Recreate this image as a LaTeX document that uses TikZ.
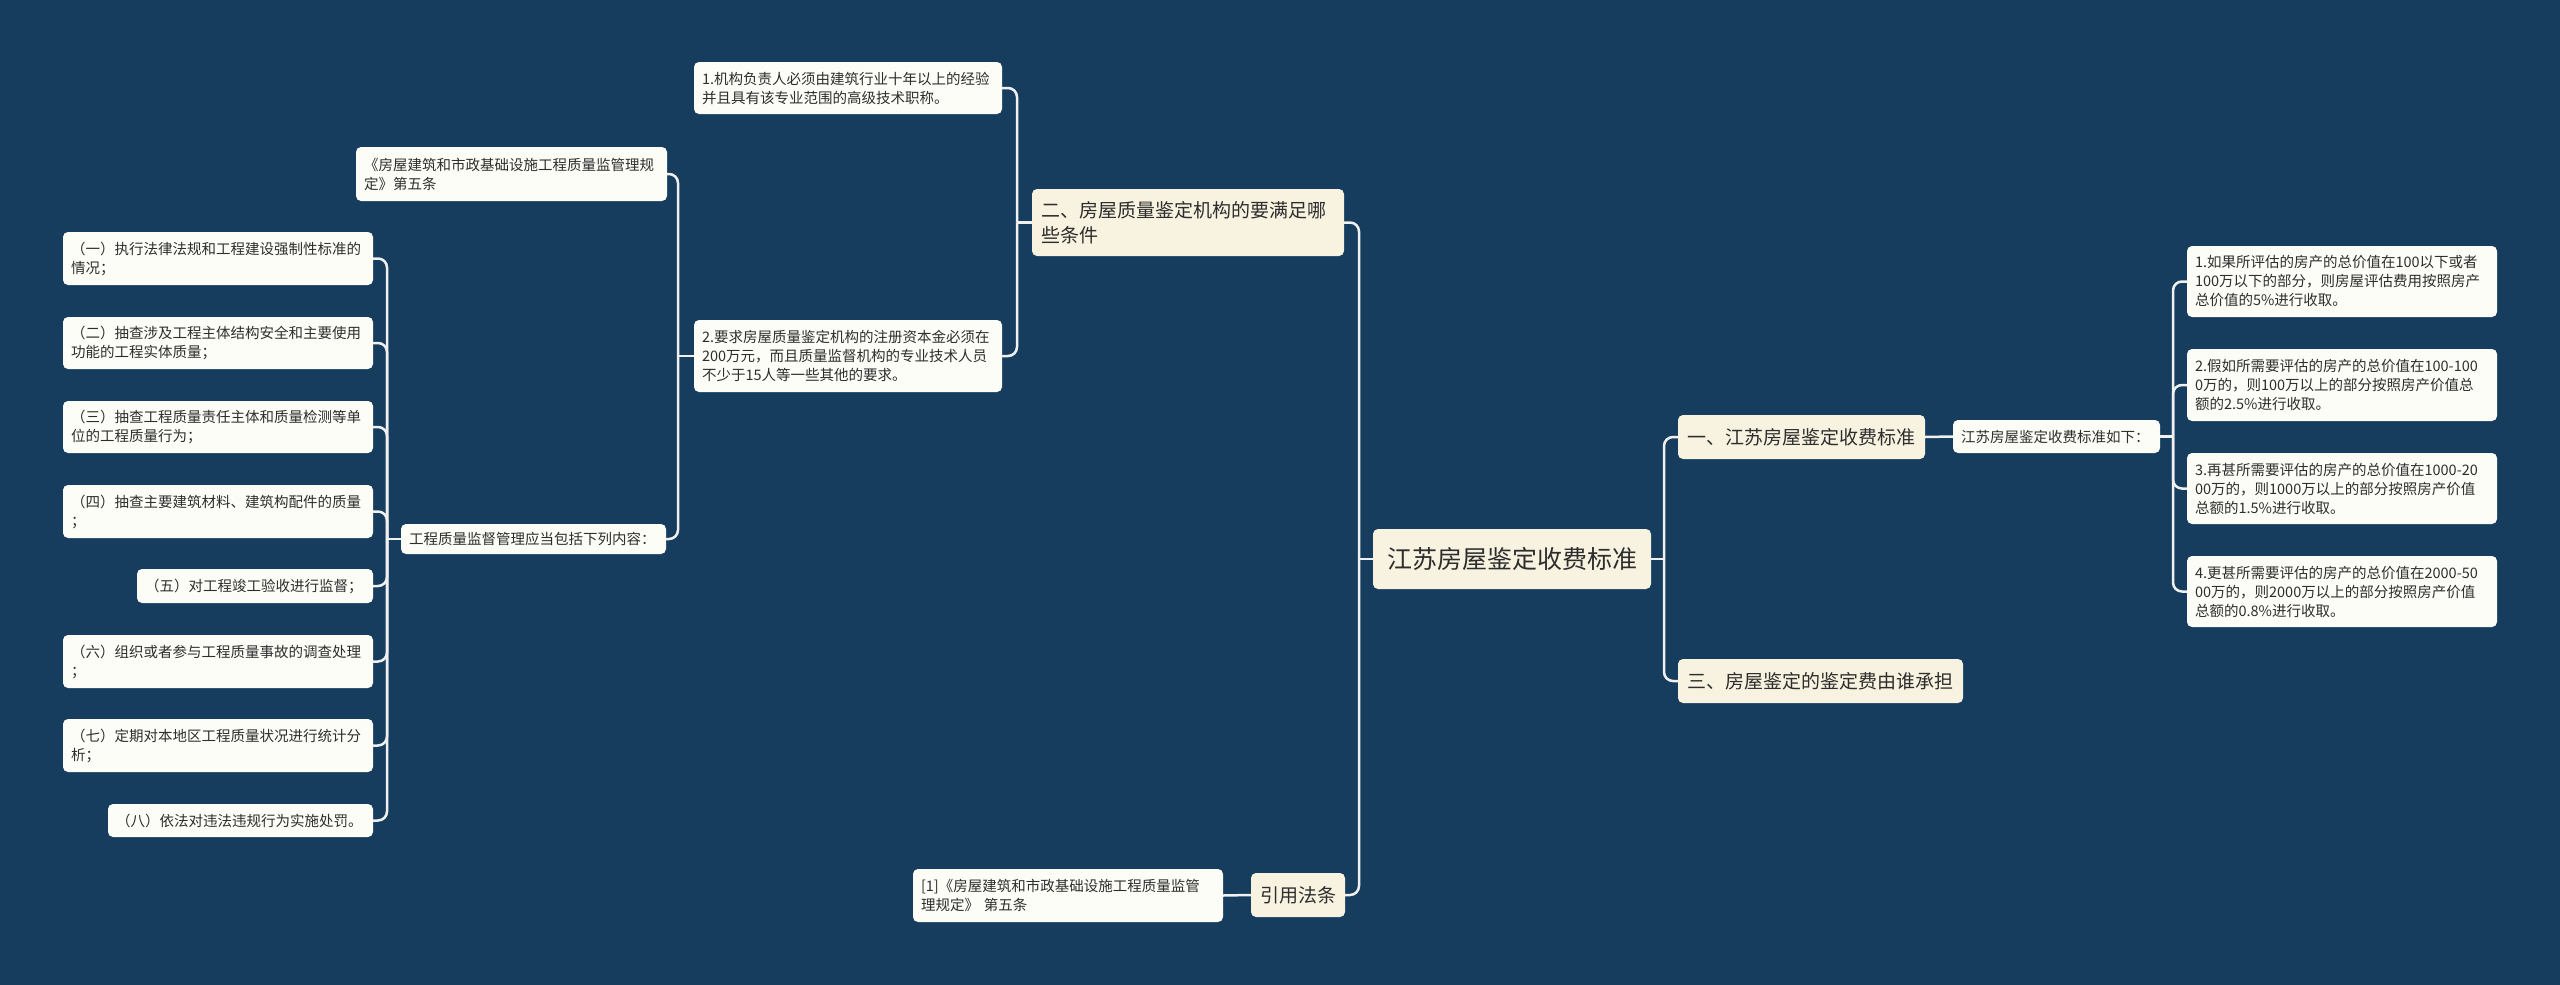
\documentclass[tikz,border=0pt]{standalone}
\usepackage{fontspec}
\newfontfamily\cjk{Noto Sans CJK SC}
\definecolor{bg}{RGB}{22,61,94}
\definecolor{cream}{RGB}{248,243,224}
\definecolor{leaffill}{RGB}{253,253,248}
\definecolor{ink}{RGB}{45,45,45}
\definecolor{linec}{RGB}{240,240,240}
\begin{document}
\begin{tikzpicture}[x=1pt,y=-1pt,
  base/.style={rounded corners=5pt, inner xsep=8pt, inner ysep=0pt, align=left, text=ink, anchor=center, font=\cjk\fontsize{14.5}{19}\selectfont},
  leaf/.style={base, fill=leaffill},
  mainbox/.style={base, fill=cream, inner xsep=9pt, font=\cjk\fontsize{19}{25}\selectfont},
  rootbox/.style={base, fill=cream, inner xsep=12pt, align=center, font=\cjk\fontsize{25}{30}\selectfont},
  conn/.style={draw=linec, line width=2.5pt, rounded corners=9pt}
]
\fill[bg] (0,0) rectangle (2560,985);
\useasboundingbox (0,0) rectangle (2560,985);

% root and main branches
\node[rootbox, text width=254pt, minimum height=60pt] (root) at (1512,559) {江苏房屋鉴定收费标准};
\node[mainbox, text width=294pt, minimum height=67pt] (er) at (1188,222.5) {二、房屋质量鉴定机构的要满足哪\\些条件};
\node[mainbox, text width=76pt, minimum height=44pt] (yy) at (1298,895) {引用法条};
\node[mainbox, text width=229pt, minimum height=44pt] (yi) at (1801.5,437) {一、江苏房屋鉴定收费标准};
\node[mainbox, text width=267pt, minimum height=44pt] (san) at (1820.5,681) {三、房屋鉴定的鉴定费由谁承担};

% right side
\node[leaf, text width=191pt, minimum height=33pt] (ruxia) at (2056.5,436.5) {江苏房屋鉴定收费标准如下：};
\node[leaf, text width=294pt, minimum height=71pt] (r1) at (2342,281.5) {1.如果所评估的房产的总价值在100以下或者\\100万以下的部分，则房屋评估费用按照房产\\总价值的5\%进行收取。};
\node[leaf, text width=294pt, minimum height=72pt] (r2) at (2342,385) {2.假如所需要评估的房产的总价值在100-100\\0万的，则100万以上的部分按照房产价值总\\额的2.5\%进行收取。};
\node[leaf, text width=294pt, minimum height=71pt] (r3) at (2342,488.5) {3.再甚所需要评估的房产的总价值在1000-20\\00万的，则1000万以上的部分按照房产价值\\总额的1.5\%进行收取。};
\node[leaf, text width=294pt, minimum height=71pt] (r4) at (2342,591.5) {4.更甚所需要评估的房产的总价值在2000-50\\00万的，则2000万以上的部分按照房产价值\\总额的0.8\%进行收取。};

% left side
\node[leaf, text width=292pt, minimum height=52pt] (c1) at (848,88) {1.机构负责人必须由建筑行业十年以上的经验\\并且具有该专业范围的高级技术职称。};
\node[leaf, text width=292pt, minimum height=72pt] (c2) at (848,356) {2.要求房屋质量鉴定机构的注册资本金必须在\\200万元，而且质量监督机构的专业技术人员\\不少于15人等一些其他的要求。};
\node[leaf, text width=295pt, minimum height=54pt] (fw) at (511.5,174) {《房屋建筑和市政基础设施工程质量监管理规\\定》第五条};
\node[leaf, text width=249pt, minimum height=30pt] (gc) at (533.5,539) {工程质量监督管理应当包括下列内容：};
\node[leaf, text width=294pt, minimum height=53pt] (l1) at (218,258.5) {（一）执行法律法规和工程建设强制性标准的\\情况；};
\node[leaf, text width=294pt, minimum height=52pt] (l2) at (218,343) {（二）抽查涉及工程主体结构安全和主要使用\\功能的工程实体质量；};
\node[leaf, text width=294pt, minimum height=52pt] (l3) at (218,427) {（三）抽查工程质量责任主体和质量检测等单\\位的工程质量行为；};
\node[leaf, text width=294pt, minimum height=53pt] (l4) at (218,511.5) {（四）抽查主要建筑材料、建筑构配件的质量\\；};
\node[leaf, text width=220pt, minimum height=34pt] (l5) at (255,586) {（五）对工程竣工验收进行监督；};
\node[leaf, text width=294pt, minimum height=53pt] (l6) at (218,661.5) {（六）组织或者参与工程质量事故的调查处理\\；};
\node[leaf, text width=294pt, minimum height=53pt] (l7) at (218,745.5) {（七）定期对本地区工程质量状况进行统计分\\析；};
\node[leaf, text width=249pt, minimum height=33pt] (l8) at (240.5,820.5) {（八）依法对违法违规行为实施处罚。};
\node[leaf, text width=294pt, minimum height=53pt] (ref1) at (1068,895.5) {[1]《房屋建筑和市政基础设施工程质量监管\\理规定》 第五条};

% bus points
\coordinate (bL) at (1359,559);
\coordinate (bR) at (1664,559);
\coordinate (bEr) at (1017,222.5);
\coordinate (bC2) at (678,356);
\coordinate (bGc) at (387,539);
\coordinate (bRx) at (2173,436.5);

% connectors
\draw[conn] (root.west) -- (bL);
\draw[conn] (bL) |- (er.east);
\draw[conn] (bL) |- (yy.east);
\draw[conn] (root.east) -- (bR);
\draw[conn] (bR) |- (yi.west);
\draw[conn] (bR) |- (san.west);
\draw[conn] (yi.east) -- (ruxia.west);
\draw[conn] (ruxia.east) -- (bRx);
\foreach \n in {r1,r2,r3,r4} \draw[conn] (bRx) |- (\n.west);
\draw[conn] (er.west) -- (bEr);
\draw[conn] (bEr) |- (c1.east);
\draw[conn] (bEr) |- (c2.east);
\draw[conn] (c2.west) -- (bC2);
\draw[conn] (bC2) |- (fw.east);
\draw[conn] (bC2) |- (gc.east);
\draw[conn] (gc.west) -- (bGc);
\foreach \n in {l1,l2,l3,l4,l5,l6,l7,l8} \draw[conn] (bGc) |- (\n.east);
\draw[conn] (yy.west) -- (ref1.east);
\end{tikzpicture}
\end{document}
